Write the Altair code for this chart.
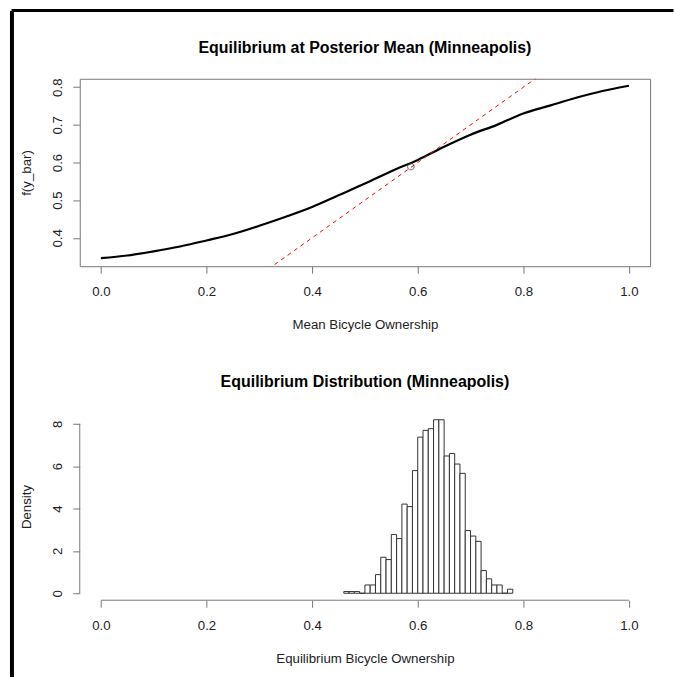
import altair as alt
import pandas as pd

# Mean response curve f(y_bar) over mean bicycle ownership
ownership = [0.00, 0.05, 0.10, 0.15, 0.20, 0.25, 0.30, 0.35, 0.40, 0.45, 0.50,
             0.55, 0.60, 0.65, 0.70, 0.75, 0.80, 0.85, 0.90, 0.95, 1.00]
f_ybar = [0.346, 0.353, 0.364, 0.377, 0.393, 0.410, 0.432, 0.456, 0.482, 0.513, 0.544,
          0.577, 0.607, 0.642, 0.674, 0.700, 0.730, 0.751, 0.772, 0.790, 0.804]

# Equilibrium at the posterior mean
eq_x = [0.587]
eq_y = [0.589]

# 45-degree reference line
ref_intercept = 0.0
ref_slope = 1.0

# Histogram of equilibrium ownership (density, bin width 0.01)
bin_left = [0.46, 0.47, 0.48, 0.49, 0.50, 0.51, 0.52, 0.53, 0.54, 0.55, 0.56,
            0.57, 0.58, 0.59, 0.60, 0.61, 0.62, 0.63, 0.64, 0.65, 0.66, 0.67,
            0.68, 0.69, 0.70, 0.71, 0.72, 0.73, 0.74, 0.75, 0.76, 0.77]
density = [0.08, 0.08, 0.08, 0.00, 0.39, 0.39, 0.88, 1.70, 1.59, 2.77, 2.58,
           4.21, 4.09, 5.79, 7.37, 7.69, 7.77, 8.19, 8.19, 6.48, 6.60, 6.10,
           5.66, 2.96, 2.70, 2.45, 1.07, 0.68, 0.39, 0.39, 0.00, 0.19]
BIN_W = 0.01

x_ticks = [0.0, 0.2, 0.4, 0.6, 0.8, 1.0]
y_ticks_top = [0.4, 0.5, 0.6, 0.7, 0.8]
y_ticks_hist = [0, 2, 4, 6, 8]

TITLE_TOP = "Equilibrium at Posterior Mean (Minneapolis)"
TITLE_BOTTOM = "Equilibrium Distribution (Minneapolis)"

FONT = "Liberation Sans"
AX = "#777777"
TXT = "#222222"
FS = 13.3
W, H = 572, 188
X_DOMAIN = [-0.04, 1.04]
Y_DOMAIN_TOP = [0.3246, 0.8224]
Y_DOMAIN_HIST = [-0.33, 8.52]

curve_df = pd.DataFrame({"x": ownership, "y": f_ybar})
eq_df = pd.DataFrame({"x": eq_x, "y": eq_y})
ref_df = pd.DataFrame({"x": X_DOMAIN,
                       "y": [ref_intercept + ref_slope * v for v in X_DOMAIN]})
hist_df = pd.DataFrame({"lo": bin_left,
                        "hi": [b + BIN_W for b in bin_left],
                        "d": density})
one = pd.DataFrame({"k": [0]})

xs = alt.Scale(domain=X_DOMAIN, nice=False, zero=False)


def x_axis(title):
    return alt.Axis(title=title, values=x_ticks, format=".1f", domain=False,
                    grid=False, tickSize=7, tickColor=AX, labelPadding=11,
                    labelFont=FONT, labelFontSize=FS, labelColor=TXT,
                    titleFont=FONT, titleFontSize=FS, titleFontWeight="normal",
                    titleColor=TXT, titleY=58, titleBaseline="middle")


def y_axis(title, values, fmt):
    return alt.Axis(title=title, values=values, format=fmt, domain=False,
                    grid=False, tickSize=7, tickColor=AX, labelPadding=8,
                    labelAngle=270, labelAlign="center", labelBaseline="bottom",
                    labelFont=FONT, labelFontSize=FS, labelColor=TXT,
                    titleFont=FONT, titleFontSize=FS, titleFontWeight="normal",
                    titleColor=TXT, titleAngle=270, titleX=-53, titleY=H / 2,
                    titleAlign="center", titleBaseline="middle")


def panel_title(text):
    # main title drawn above the plot area
    return alt.Chart(one).mark_text(
        text=text, font=FONT, fontSize=16, fontWeight="bold", color="black",
        align="center", baseline="alphabetic",
    ).encode(x=alt.value(W / 2), y=alt.value(-25.5))


# --- top panel: response curve, 45-degree line and equilibrium point
curve = alt.Chart(curve_df).mark_line(color="black", strokeWidth=2.2,
                                      interpolate="monotone").encode(
    x=alt.X("x:Q", scale=xs, axis=x_axis("Mean Bicycle Ownership")),
    y=alt.Y("y:Q", scale=alt.Scale(domain=Y_DOMAIN_TOP, nice=False, zero=False),
            axis=y_axis("f(y_bar)", y_ticks_top, ".1f")),
)
ref = alt.Chart(ref_df).mark_line(color="red", strokeWidth=1, strokeDash=[4, 4],
                                   clip=True).encode(x="x:Q", y="y:Q")
eq = alt.Chart(eq_df).mark_point(shape="circle", filled=False, size=42,
                                 color="#444444", strokeWidth=1.1).encode(x="x:Q", y="y:Q")

# page frame lines (left and top edges of the sheet)
frame_left = alt.Chart(one).mark_rule(color="black", strokeWidth=4).encode(
    x=alt.value(-68), y=alt.value(-68), y2=alt.value(600))
frame_top = alt.Chart(one).mark_rule(color="black", strokeWidth=3).encode(
    x=alt.value(-68.5), x2=alt.value(595.5), y=alt.value(-68.5))

top = alt.layer(curve, ref, eq, frame_left, frame_top, panel_title(TITLE_TOP)).properties(
    width=W, height=H,
    view=alt.ViewBackground(stroke=AX, strokeWidth=1),
)

# --- bottom panel: histogram of equilibrium ownership
ys_hist = alt.Scale(domain=Y_DOMAIN_HIST, nice=False, zero=False)
bars = alt.Chart(hist_df).mark_bar(fill="white", stroke="#333333", strokeWidth=1).encode(
    x=alt.X("lo:Q", scale=xs, axis=x_axis("Equilibrium Bicycle Ownership")),
    x2="hi:Q",
    y=alt.Y("d:Q", scale=ys_hist, axis=y_axis("Density", y_ticks_hist, "d")),
    y2=alt.datum(0),
)
x_line = alt.Chart(one).mark_rule(color=AX, strokeWidth=1).encode(
    x=alt.datum(x_ticks[0]), x2=alt.datum(x_ticks[-1]), y=alt.value(H))
y_line = alt.Chart(one).mark_rule(color=AX, strokeWidth=1).encode(
    y=alt.datum(y_ticks_hist[0]), y2=alt.datum(y_ticks_hist[-1]), x=alt.value(0))

bottom = alt.layer(bars, x_line, y_line, panel_title(TITLE_BOTTOM)).properties(
    width=W, height=H,
    view=alt.ViewBackground(stroke=None),
)

chart = alt.vconcat(top, bottom, spacing=147, bounds="flush").properties(
    autosize=alt.AutoSizeParams(type="pad"),
    padding={"left": 9, "top": 7, "right": 0, "bottom": 0},
    background="white",
).configure_view(stroke=None)

chart.save("out.html", embed_options={"renderer": "svg", "actions": False})
